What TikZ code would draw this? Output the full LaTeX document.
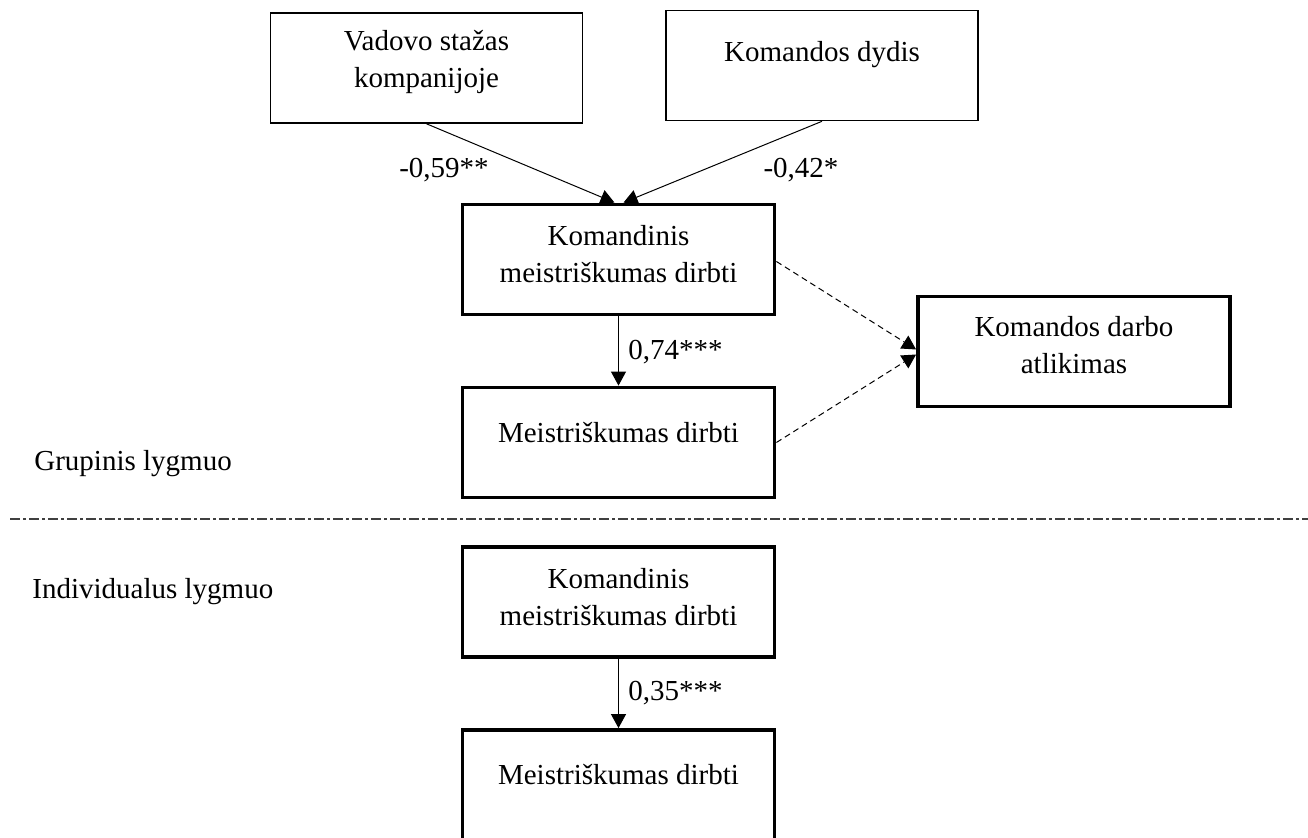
\documentclass[tikz,border=0pt]{standalone}
\usepackage{fontspec}
\setmainfont{Liberation Serif}
\usetikzlibrary{arrows.meta,calc}
\begin{document}
\begin{tikzpicture}[x=0.5pt,y=-0.5pt,
  txt/.style={font=\fontsize{14.5}{18.5}\selectfont,align=center,inner sep=0pt},
  thinbox/.style={draw,line width=0.8pt,minimum width=156pt,minimum height=55pt,inner sep=0pt},
  thickbox/.style={draw,line width=1.9pt,minimum width=156pt,minimum height=55pt,inner sep=0pt},
  arr/.style={line width=0.5pt,-{Triangle[length=7pt,width=7.5pt]}},
  darr/.style={line width=0.5pt,dash pattern=on 3pt off 2pt,-{Triangle[length=7pt,width=7.5pt]}},
  divider/.style={line width=0.7pt,black!75,dash pattern=on 5pt off 1.5pt on 1.5pt off 1.5pt}
]
\useasboundingbox (0,0) rectangle (1308,838);

% boxes
\node[thinbox]  (b1) at (426.5,68) {};
\node[thinbox]  (b2) at (822,65.5) {};
\node[thickbox] (b3) at (618.5,259.5) {};
\node[thickbox] (b4) at (618.5,442.5) {};
\node[thickbox] (b5) at (1074,351.5) {};
\node[thickbox] (b6) at (618.5,602) {};
\node[thickbox] (b7) at (618.5,785) {};

% box texts
\node[txt] (t1) at ($(b1.center)+(0,-6)$) {Vadovo stažas\\kompanijoje};
\node[txt] (t2) at ($(b2.center)+(0,-11)$) {Komandos dydis};
\node[txt] (t3) at ($(b3.center)+(0,-5)$) {Komandinis\\meistriškumas dirbti};
\node[txt] (t4) at ($(b4.center)+(0,-10)$) {Meistriškumas dirbti};
\node[txt] (t5) at ($(b5.center)+(0,-6)$) {Komandos darbo\\atlikimas};
\node[txt] (t6) at ($(b6.center)+(0,-5)$) {Komandinis\\meistriškumas dirbti};
\node[txt] (t7) at ($(b7.center)+(0,-10)$) {Meistriškumas dirbti};

% level labels
\node[txt,anchor=west] (g) at (34,464) {Grupinis lygmuo};
\node[txt,anchor=west] (i) at (32,592) {Individualus lygmuo};

% divider
\coordinate (dl) at (10,519);
\coordinate (dr) at (1308,519);
\draw[divider] (dl) -- (dr);

% connectors
\draw[arr] (b1.south) -- ($(b3.north)+(-4,0)$);
\draw[arr] (b2.south) -- ($(b3.north)+(5,0)$);
\draw[arr] (b3.south) -- (b4.north);
\draw[darr] ($(b3.east)+(0,2)$) -- ($(b5.west)+(0,-2)$);
\draw[darr] (b4.east) -- ($(b5.west)+(0,3)$);
\draw[arr] (b6.south) -- (b7.north);

% coefficients
\node[txt] (c1) at (444,170) {-0,59**};
\node[txt] (c2) at (801,170) {-0,42*};
\node[txt,anchor=west] (c3) at (628,352) {0,74***};
\node[txt,anchor=west] (c4) at (628,693) {0,35***};
\end{tikzpicture}
\end{document}
